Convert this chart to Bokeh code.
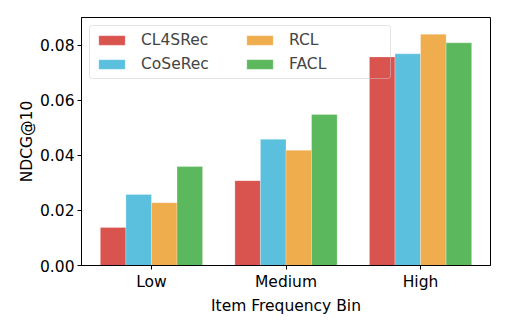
from bokeh.plotting import figure
from bokeh.models import ColumnDataSource, FixedTicker, PrintfTickFormatter, Range1d, Legend, LegendItem
from bokeh.transform import dodge
from bokeh.embed import file_html
from bokeh.resources import INLINE

categories = ["Low", "Medium", "High"]
series_names = ["CL4SRec", "CoSeRec", "RCL", "FACL"]
cl4srec = [0.0138, 0.0308, 0.0757]
coserec = [0.0258, 0.0458, 0.0768]
rcl = [0.0228, 0.0418, 0.0839]
facl = [0.0359, 0.0548, 0.0808]
colors = ["#d9534f", "#5bc0de", "#f0ad4e", "#5cb85c"]
y_ticks = [0.0, 0.02, 0.04, 0.06, 0.08]

source = ColumnDataSource(dict(
    x=list(range(len(categories))),
    CL4SRec=cl4srec, CoSeRec=coserec, RCL=rcl, FACL=facl,
))

FONT = "DejaVu Sans"
FS = "15.5px"

p = figure(width=500, height=319, output_backend="svg", toolbar_location=None,
           x_range=Range1d(-0.52, 2.52), y_range=Range1d(0, 0.09),
           min_border_left=81, min_border_right=10, min_border_top=17, min_border_bottom=54)
p.outline_line_color = "black"
p.outline_line_width = 1
p.xgrid.visible = False
p.ygrid.visible = False

bw = 0.19
offsets = [-1.5 * bw, -0.5 * bw, 0.5 * bw, 1.5 * bw]
renderers = []
for name, col, off in zip(series_names, colors, offsets):
    r = p.vbar(x=dodge("x", off), top=name, width=bw, source=source,
               fill_color=col, line_color="white", line_alpha=0.25, line_width=1)
    renderers.append(r)

p.xaxis.ticker = FixedTicker(ticks=list(range(len(categories))))
p.xaxis.major_label_overrides = {i: c for i, c in enumerate(categories)}
p.yaxis.ticker = FixedTicker(ticks=y_ticks)
p.yaxis.formatter = PrintfTickFormatter(format="%.2f")
p.xaxis.axis_label = "Item Frequency Bin"
p.yaxis.axis_label = "NDCG@10"
for ax in (p.xaxis, p.yaxis):
    ax.axis_line_color = "black"
    ax.major_tick_line_color = "black"
    ax.major_tick_out = 4
    ax.major_tick_in = 0
    ax.minor_tick_line_color = None
    ax.major_label_text_font = FONT
    ax.major_label_text_font_size = FS
    ax.major_label_text_color = "black"
    ax.axis_label_text_font = FONT
    ax.axis_label_text_font_size = FS
    ax.axis_label_text_font_style = "normal"
    ax.axis_label_text_color = "black"
    ax.major_label_standoff = 3
    ax.axis_label_standoff = 3
p.yaxis.axis_label_standoff = 1

legend = Legend(items=[LegendItem(label=n, renderers=[r]) for n, r in zip(series_names, renderers)],
                location="top_left", ncols=2, orientation="vertical")
legend.label_text_font = FONT
legend.label_text_font_size = FS
legend.glyph_width = 33
legend.glyph_height = 12
legend.label_standoff = 13
legend.label_width = 96
legend.spacing = 6
legend.padding = 5
legend.margin = 8
legend.border_line_color = "#cccccc"
legend.border_line_width = 1
legend.background_fill_alpha = 0
props = legend.properties()
if "item_background_fill_alpha" in props:
    legend.item_background_fill_alpha = 0
if "border_radius" in props:
    legend.border_radius = 3
p.add_layout(legend, "center")

open("out.html", "w").write(file_html(p, INLINE))
